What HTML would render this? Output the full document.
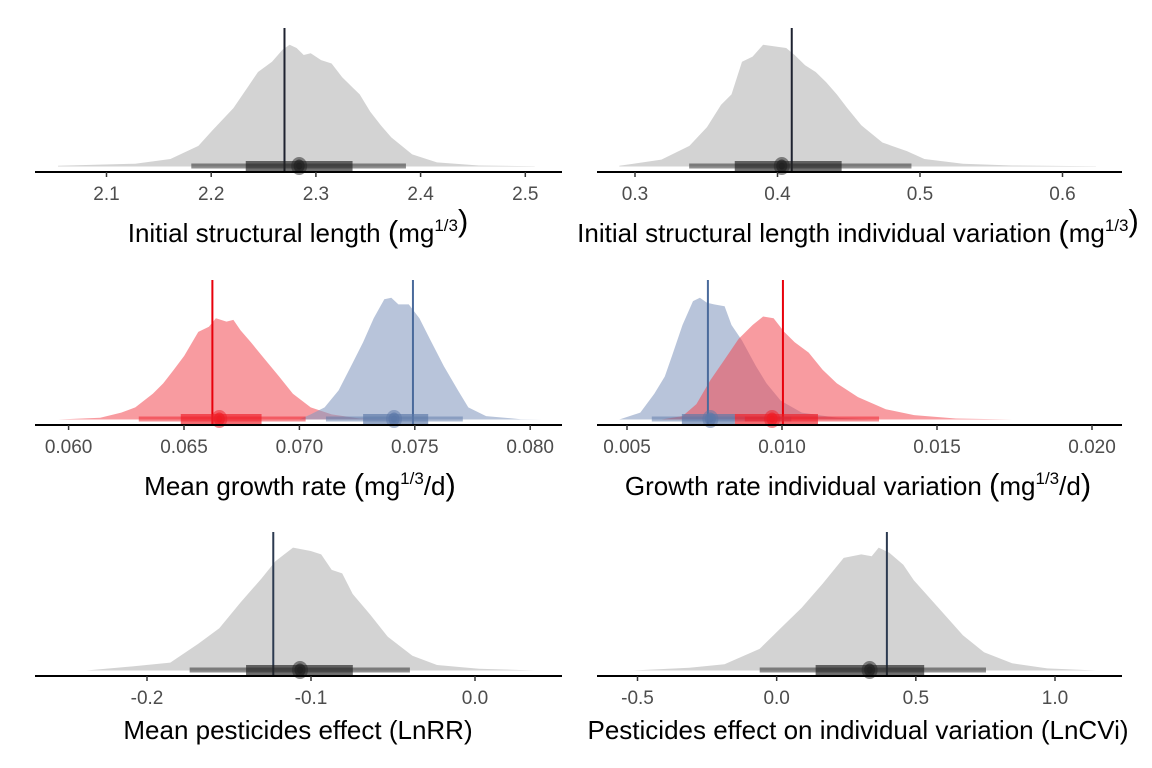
<!DOCTYPE html>
<html><head><meta charset="utf-8"><style>
body{margin:0;background:#fff}
svg{display:block;font-family:"Liberation Sans",Arial,sans-serif}
</style></head><body>
<svg id="c" width="1152" height="768" viewBox="0 0 1152 768"></svg>
<script>
// ---- data ----
const p1X=[2.0537,2.1274,2.161,2.1878,2.2011,2.2212,2.2347,2.2447,2.2581,2.2681,2.2749,2.2816,2.2883,2.295,2.305,2.315,2.3251,2.3351,2.3418,2.3519,2.362,2.372,2.392,2.4156,2.4558,2.509];
const p1D=[0.7,2.7,7.3,20,35,56.7,76.7,91.7,101.7,113.3,118.3,115,108.3,110,103.3,100,86.7,76.7,70,53.3,40,28.3,11.7,4,1,0.3];
const p2X=[0.289,0.3185,0.3382,0.3505,0.3604,0.3677,0.3751,0.3825,0.3899,0.3973,0.4061,0.412,0.4194,0.4268,0.4342,0.4416,0.449,0.4588,0.4736,0.4908,0.5031,0.5302,0.5646,0.6235];
const p2D=[0.7,6.7,20,38.3,60,70,101.7,106.7,118.3,116.7,115,108.3,98.3,91.7,81.7,70,56.7,40,23.3,15,7.3,2.7,1,0.3];
const p3RedX=[0.05955,0.06137,0.06228,0.06289,0.06365,0.0641,0.06456,0.06501,0.06562,0.06608,0.06638,0.06684,0.06714,0.06745,0.0679,0.06851,0.06912,0.06972,0.07049,0.0714,0.07261,0.07413];
const p3RedD=[0,1.7,6.7,11.7,25,35,48.3,61.7,85,90,98.3,95,96.7,86.7,75,58.3,41.7,25,11.7,5,1,0];
const p3BlueX=[0.07,0.07049,0.07109,0.0717,0.07231,0.07276,0.07322,0.07368,0.07398,0.07429,0.07474,0.0752,0.07565,0.07626,0.07687,0.07732,0.07809,0.0796,0.08051];
const p3BlueD=[0,5,11.7,28.3,55,75,98.3,116.7,118.3,111.7,111.7,98.3,78.3,51.7,28.3,11.7,3.3,0.3,0];
const p4BlueX=[0.00475,0.00543,0.00588,0.00622,0.00645,0.00679,0.00713,0.00735,0.00758,0.00781,0.00815,0.00837,0.00871,0.00916,0.0095,0.00996,0.01064,0.01177,0.0129];
const p4BlueD=[0,6.7,25,41.7,61.7,91.7,115,118.3,113.3,111.7,110,91.7,76.7,51.7,35,18.3,6.7,1.7,0];
const p4RedX=[0.00611,0.00679,0.00724,0.00769,0.00815,0.0086,0.00905,0.00939,0.00973,0.01007,0.01041,0.01086,0.01131,0.01177,0.01245,0.01335,0.01426,0.01561,0.01742];
const p4RedD=[0,3.3,15,38.3,58.3,78.3,91.7,100,98.3,85,75,65,48.3,35,21.7,10,4.3,1,0];
const p5X=[-0.2371,-0.2072,-0.1858,-0.1687,-0.1559,-0.143,-0.1302,-0.1217,-0.111,-0.1002,-0.0938,-0.0874,-0.081,-0.0746,-0.0639,-0.0532,-0.0382,-0.0232,0.0024,0.0366];
const p5D=[0,4.3,7.7,26,41,66,89.3,106,119.3,116,112.7,97.7,94.3,74.3,54.3,32.7,14.3,5.3,1.7,0];
const p6X=[-0.5151,-0.3136,-0.1875,-0.0614,0.014,0.0898,0.1652,0.241,0.3039,0.3416,0.3667,0.4045,0.4551,0.4928,0.5812,0.6692,0.745,0.8459,0.972,1.148];
const p6D=[0,2.7,6,21,41,61,84.3,109.3,112.7,111,119.3,114.3,102.7,87.7,61,34.3,17.7,7,2,0];
// intervals: [point, inner lo, inner hi, outer lo, outer hi], reference line value
const p1Int=[2.284,2.233,2.335,2.181,2.386]; const p1Ref=[2.270];
const p2Int=[0.403,0.37,0.445,0.338,0.494]; const p2Ref=[0.41];
const p3RedInt=[0.06653,0.06486,0.06836,0.06304,0.07027]; const p3RedRef=[0.06623];
const p3BlueInt=[0.0741,0.07276,0.07558,0.07115,0.07708]; const p3BlueRef=[0.07492];
const p4BlueInt=[0.00769,0.00677,0.00848,0.0058,0.0103]; const p4BlueRef=[0.00761];
const p4RedInt=[0.00968,0.00848,0.01116,0.0088,0.01313]; const p4RedRef=[0.01003];
const p5Int=[-0.1067,-0.1396,-0.0745,-0.174,-0.0397]; const p5Ref=[-0.123];
const p6Int=[0.334,0.14,0.53,-0.061,0.752]; const p6Ref=[0.396];
const p1Ticks=[2.1,2.2,2.3,2.4,2.5]; const p1Lab=["2.1","2.2","2.3","2.4","2.5"];
const p2Ticks=[0.3,0.4,0.5,0.6]; const p2Lab=["0.3","0.4","0.5","0.6"];
const p3Ticks=[0.06,0.065,0.07,0.075,0.08]; const p3Lab=["0.060","0.065","0.070","0.075","0.080"];
const p4Ticks=[0.005,0.01,0.015,0.02]; const p4Lab=["0.005","0.010","0.015","0.020"];
const p5Ticks=[-0.2,-0.1,0.0]; const p5Lab=["-0.2","-0.1","0.0"];
const p6Ticks=[-0.5,0,0.5,1.0]; const p6Lab=["-0.5","0.0","0.5","1.0"];

const NS="http://www.w3.org/2000/svg";
const svg=document.getElementById('c');
function mk(tag,attrs,parent){const e=document.createElementNS(NS,tag);for(const k in attrs)e.setAttribute(k,attrs[k]);(parent||svg).appendChild(e);return e;}

const GREY='#d3d3d3', RED='rgba(242,72,82,0.55)', BLUE='rgba(132,154,191,0.58)';
function panel(name,x0,x1,axisY,dom,ticks,labs){
  const g=mk('g',{});
  
  
  const sx=v=>dom[1]+(v-dom[0])*(dom[3]-dom[1])/(dom[2]-dom[0]);
  const base=axisY-5.5, sy=d=>base-d*1.03;
  return {g,sx,sy,axisY,x0,x1,ticks,labs,base};
}
function density(P,xs,ds,fill,nm){
  let d='M'+P.sx(xs[0])+','+P.base;
  for(let i=0;i<xs.length;i++)d+=' L'+P.sx(xs[i]).toFixed(1)+','+P.sy(ds[i]).toFixed(1);
  d+=' L'+P.sx(xs[xs.length-1])+','+P.base+'Z';
  const e=mk('path',{d,fill},P.g);
  
  
}
function interval(P,iv,col,nm){
  const y=P.base-0.5;
  const o=mk('rect',{x:P.sx(iv[3]),y:y-2.5,width:P.sx(iv[4])-P.sx(iv[3]),height:5,fill:col,opacity:0.5},P.g);
  
  
  const i=mk('rect',{x:P.sx(iv[1]),y:y-5,width:P.sx(iv[2])-P.sx(iv[1]),height:10,fill:col,opacity:0.65},P.g);
  
  
  const c=mk('ellipse',{cx:P.sx(iv[0]),cy:y,rx:8,ry:9,fill:col,opacity:0.5},P.g);
  
  
  mk('ellipse',{cx:P.sx(iv[0]),cy:y,rx:5.5,ry:6.5,fill:col,opacity:0.7},P.g);
  mk('ellipse',{cx:P.sx(iv[0]),cy:y,rx:3,ry:3.5,fill:col},P.g);
}
function refline(P,v,col,top,nm){
  const l=mk('line',{x1:P.sx(v[0]),x2:P.sx(v[0]),y1:top,y2:P.axisY,stroke:col,'stroke-width':2},P.g);
  
  
}
function axis(P,nm){
  const a=mk('line',{x1:P.x0,x2:P.x1,y1:P.axisY,y2:P.axisY,stroke:'#000','stroke-width':2},P.g);
  
  
  P.ticks.forEach((t,i)=>{
    mk('line',{x1:P.sx(t),x2:P.sx(t),y1:P.axisY,y2:P.axisY+5,stroke:'#333','stroke-width':1.5},P.g);
    const tx=mk('text',{x:P.sx(t),y:P.axisY+28,'text-anchor':'middle','font-size':19,fill:'#4d4d4d'},P.g);
    tx.textContent=P.labs[i];
    
    
  });
}
function title(P,cx,y,html,nm){
  const t=mk('text',{x:cx,y:y,'text-anchor':'middle','font-size':26,fill:'#000'},P.g);
  t.innerHTML=html;
  
  
}
const sup='<tspan font-size="31">(</tspan>mg<tspan font-size="17" dy="-11">1/3</tspan><tspan dy="11">';
const cl='</tspan><tspan font-size="31">)</tspan>';
let P=panel('panel-initial-length',35,562,172,[2.1,106.5,2.5,525.3],p1Ticks,p1Lab);
density(P,p1X,p1D,GREY,'density');refline(P,p1Ref,'#1e2230',28,'reference-line');interval(P,p1Int,'#222','estimate');axis(P,'p1');
title(P,298,242,'Initial structural length '+sup+cl,'x-axis-title');
P=panel('panel-initial-length-variation',597,1122,172,[0.3,635,0.6,1062.5],p2Ticks,p2Lab);
density(P,p2X,p2D,GREY,'density');refline(P,p2Ref,'#1e2230',28,'reference-line');interval(P,p2Int,'#222','estimate');axis(P,'p2');
title(P,858,242,'Initial structural length individual variation '+sup+cl,'x-axis-title');
P=panel('panel-mean-growth',35,562,425,[0.06,68.6,0.08,530.2],p3Ticks,p3Lab);
density(P,p3RedX,p3RedD,RED,'density-red');density(P,p3BlueX,p3BlueD,BLUE,'density-blue');
refline(P,p3RedRef,'#e8000b',280,'reference-line-red');refline(P,p3BlueRef,'#4a6a9b',280,'reference-line-blue');
interval(P,p3RedInt,'#ee1c25','estimate-red');interval(P,p3BlueInt,'#5b78a8','estimate-blue');axis(P,'p3');
title(P,300,495,'Mean growth rate '+sup+'/d'+cl,'x-axis-title');
P=panel('panel-growth-variation',597,1122,425,[0.005,627,0.02,1092],p4Ticks,p4Lab);
density(P,p4BlueX,p4BlueD,BLUE,'density-blue');density(P,p4RedX,p4RedD,RED,'density-red');
refline(P,p4BlueRef,'#4a6a9b',280,'reference-line-blue');refline(P,p4RedRef,'#e8000b',280,'reference-line-red');
interval(P,p4BlueInt,'#5b78a8','estimate-blue');interval(P,p4RedInt,'#ee1c25','estimate-red');axis(P,'p4');
title(P,858,495,'Growth rate individual variation '+sup+'/d'+cl,'x-axis-title');
P=panel('panel-mean-pesticide',35,562,676,[-0.2,147,0,475],p5Ticks,p5Lab);
density(P,p5X,p5D,GREY,'density');refline(P,p5Ref,'#2c3a50',532,'reference-line');interval(P,p5Int,'#222','estimate');axis(P,'p5');
title(P,298,739,'Mean pesticides effect (LnRR)','x-axis-title');
P=panel('panel-pesticide-variation',597,1122,676,[-0.5,637.5,1.0,1055],p6Ticks,p6Lab);
density(P,p6X,p6D,GREY,'density');refline(P,p6Ref,'#2c3a50',532,'reference-line');interval(P,p6Int,'#222','estimate');axis(P,'p6');
title(P,858,739,'Pesticides effect on individual variation (LnCVi)','x-axis-title');
</script>
</body></html>
